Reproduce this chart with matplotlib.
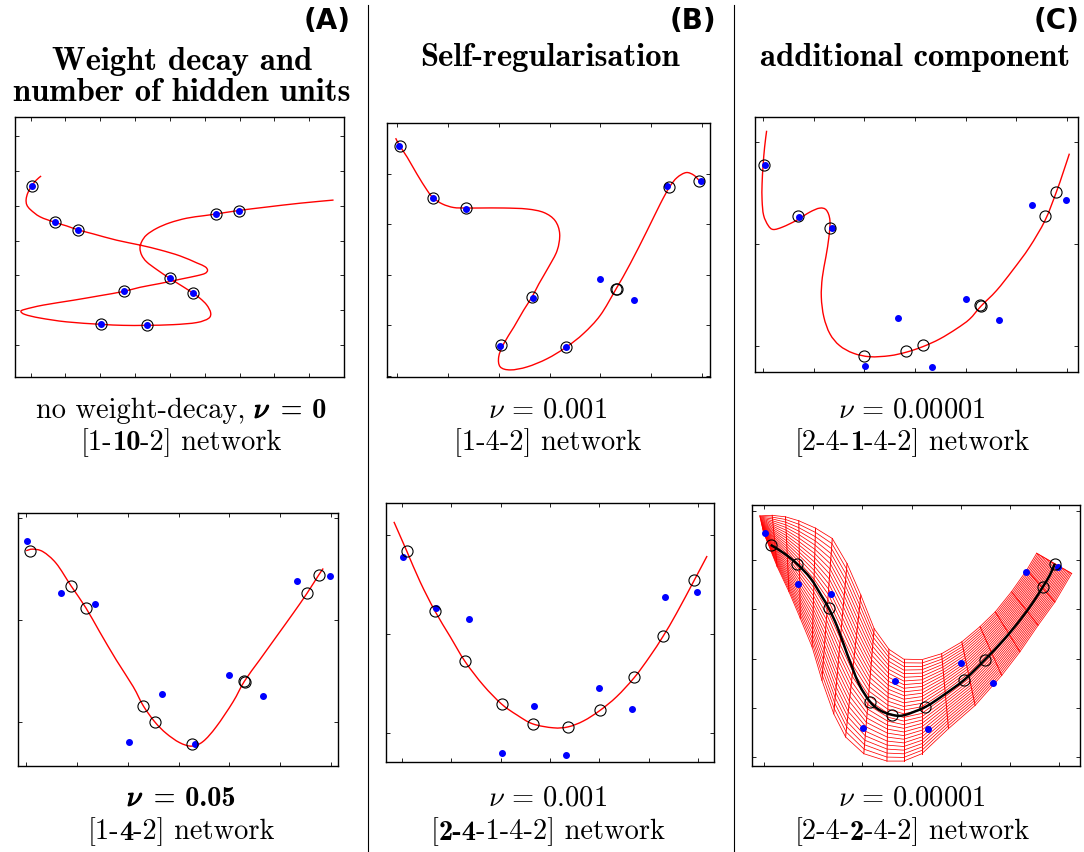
import numpy as np
import matplotlib
matplotlib.use("Agg")
import matplotlib.pyplot as plt
from matplotlib.path import Path
from matplotlib.patches import PathPatch
from matplotlib.lines import Line2D
from matplotlib.offsetbox import TextArea, HPacker, AnnotationBbox
import matplotlib.patheffects as pe

plt.rcParams['mathtext.fontset'] = 'cm'

# ---------------- data (shared by all six panels) ----------------
data_x = [0.03, 0.70, 1.36, 2.02, 2.67, 3.33, 4.00, 4.66, 5.32, 5.98]
data_y = [4.55, 3.52, 3.31, 0.60, 1.55, 0.57, 1.92, 1.50, 3.76, 3.86]

# ---- (A) top: [1-10-2], nu = 0 ----
a1_curve_x = [0.30, 0.15, 0.03, -0.08, -0.13, -0.11, 0.00, 0.27, 0.70, 1.03, 1.35, 1.80, 2.47,
              3.14, 3.72, 4.29, 4.77, 5.01, 5.08, 5.01, 4.77, 4.29, 3.72, 3.14, 2.66, 1.99,
              1.23, 0.36, -0.16, -0.28, -0.16, 0.27, 1.03, 2.01, 2.66, 3.31, 4.10, 4.77,
              5.11, 5.17, 5.06, 4.87, 4.65, 4.39, 3.99, 3.62, 3.33, 3.19, 3.14, 3.19, 3.33,
              3.62, 4.00, 4.48, 4.96, 5.32, 5.97, 6.78, 7.74, 8.70]
a1_curve_y = [4.85, 4.72, 4.56, 4.37, 4.18, 4.02, 3.88, 3.68, 3.52, 3.42, 3.31, 3.19, 3.01,
              2.87, 2.73, 2.56, 2.36, 2.25, 2.15, 2.06, 1.99, 1.89, 1.77, 1.66, 1.54, 1.42,
              1.29, 1.15, 1.03, 0.97, 0.88, 0.78, 0.67, 0.60, 0.57, 0.57, 0.59, 0.65,
              0.77, 0.93, 1.15, 1.34, 1.50, 1.67, 1.92, 2.17, 2.39, 2.58, 2.78, 2.97, 3.16,
              3.35, 3.51, 3.64, 3.71, 3.76, 3.86, 3.96, 4.07, 4.16]

# ---- (B) top: [1-4-2], nu = 0.001 ----
b1_proj_x = [0.05, 0.71, 1.35, 2.05, 2.66, 3.33, 4.31, 4.32, 5.36, 5.95]
b1_proj_y = [4.54, 3.52, 3.32, 0.61, 1.56, 0.57, 1.72, 1.71, 3.73, 3.86]
b1_curve_x = [-0.03, 0.05, 0.20, 0.39, 0.59, 0.71, 0.89, 1.11, 1.35, 1.64, 2.10, 2.56, 2.89,
              3.11, 3.20, 3.15, 2.98, 2.79, 2.66, 2.49, 2.30, 2.10, 2.00, 2.03, 2.23, 2.56,
              2.95, 3.33, 3.67, 4.00, 4.31, 4.59, 4.92, 5.18, 5.36, 5.51, 5.69, 5.84, 5.95, 6.00]
b1_curve_y = [4.70, 4.55, 4.32, 3.99, 3.67, 3.52, 3.40, 3.33, 3.32, 3.32, 3.32, 3.30, 3.23,
              3.07, 2.81, 2.48, 2.15, 1.82, 1.57, 1.30, 0.97, 0.64, 0.38, 0.18, 0.12, 0.18,
              0.34, 0.57, 0.84, 1.20, 1.72, 2.22, 2.87, 3.40, 3.73, 3.92, 4.02, 3.97, 3.86, 3.81]

# ---- (C) top: [2-4-1-4-2], nu = 0.00001 ----
c1_proj_x = [0.01, 0.68, 1.33, 2.00, 2.83, 3.16, 4.28, 4.30, 5.57, 5.79]
c1_proj_y = [4.54, 3.54, 3.31, 0.80, 0.90, 1.02, 1.79, 1.77, 3.54, 4.01]
c1_curve_x = [0.07, 0.03, 0.00, -0.02, -0.02, 0.01, 0.10, 0.20, 0.39, 0.66, 0.92, 1.12, 1.25,
              1.32, 1.30, 1.24, 1.17, 1.15, 1.20, 1.32, 1.51, 1.78, 2.11, 2.50, 2.83, 3.16,
              3.49, 3.82, 4.08, 4.30, 4.61, 4.93, 5.26, 5.57, 5.79, 5.92, 6.05]
c1_curve_y = [5.22, 4.90, 4.54, 4.18, 3.85, 3.56, 3.36, 3.28, 3.33, 3.46, 3.62, 3.70, 3.66,
              3.46, 3.13, 2.74, 2.34, 1.95, 1.56, 1.23, 1.00, 0.85, 0.78, 0.80, 0.87, 0.98,
              1.13, 1.33, 1.52, 1.77, 2.08, 2.48, 2.93, 3.46, 4.01, 4.38, 4.77]

# ---- (A) bottom: [1-4-2], nu = 0.05 ----
a2_proj_x = [0.08, 0.89, 1.18, 2.54, 2.31, 3.26, 4.29, 4.31, 5.52, 5.75]
a2_proj_y = [4.36, 3.67, 3.24, 0.99, 1.31, 0.56, 1.79, 1.78, 3.52, 3.88]
a2_curve_x = [0.01, 0.14, 0.34, 0.60, 0.89, 1.18, 1.45, 1.78, 2.11, 2.31, 2.54, 2.76, 3.02,
              3.26, 3.48, 3.74, 4.07, 4.29, 4.59, 4.92, 5.25, 5.52, 5.75, 5.84]
a2_curve_y = [4.36, 4.39, 4.34, 4.11, 3.67, 3.24, 2.77, 2.21, 1.69, 1.31, 0.99, 0.77, 0.59,
              0.52, 0.61, 0.90, 1.39, 1.79, 2.21, 2.67, 3.13, 3.52, 3.88, 4.01]

# ---- (B) bottom: [2-4-1-4-2], nu = 0.001 ----
b2_proj_x = [0.10, 0.67, 1.28, 2.02, 2.65, 3.37, 4.01, 4.71, 5.29, 5.92]
b2_proj_y = [4.68, 3.47, 2.45, 1.59, 1.19, 1.13, 1.46, 2.13, 2.96, 4.09]
b2_curve_x = [-0.16, 0.10, 0.37, 0.67, 0.98, 1.28, 1.65, 2.02, 2.33, 2.65, 3.07, 3.37, 3.68,
              4.01, 4.35, 4.71, 5.02, 5.29, 5.56, 5.92, 6.18]
b2_curve_y = [5.27, 4.68, 4.06, 3.47, 2.95, 2.45, 1.97, 1.59, 1.37, 1.19, 1.11, 1.13, 1.25,
              1.46, 1.74, 2.13, 2.55, 2.96, 3.42, 4.09, 4.58]

# ---- (C) bottom: [2-4-2-4-2], nu = 0.00001 ----
c2_proj_x = [0.14, 0.68, 1.32, 2.16, 2.60, 3.28, 4.07, 4.49, 5.66, 5.91]
c2_proj_y = [4.31, 3.92, 3.02, 1.12, 0.86, 1.02, 1.57, 1.98, 3.45, 3.93]
c2_curve_x = [0.14, 0.41, 0.68, 0.95, 1.18, 1.32, 1.49, 1.69, 1.93, 2.16, 2.36, 2.60, 2.84,
              3.28, 3.65, 4.07, 4.49, 4.86, 5.20, 5.47, 5.66, 5.81, 5.91]
c2_curve_y = [4.31, 4.14, 3.92, 3.63, 3.26, 3.02, 2.65, 2.10, 1.49, 1.12, 0.95, 0.86, 0.85,
              1.02, 1.26, 1.57, 1.98, 2.37, 2.78, 3.15, 3.45, 3.70, 3.93]
# grid of the 2-D component: one edge and the other edge of each grid column
mesh_top_x = [-0.08, 0.17, 0.44, 0.71, 1.05, 1.39, 1.69, 1.97, 2.24, 2.54, 2.84, 3.21, 3.61,
              4.02, 4.39, 4.70, 5.03, 5.34, 5.54]
mesh_top_y = [4.90, 4.91, 4.88, 4.80, 4.65, 4.44, 3.93, 3.29, 2.61, 2.19, 1.99, 1.98, 2.10,
              2.34, 2.65, 2.95, 3.36, 3.80, 4.14]
mesh_bot_x = [0.00, 0.27, 0.51, 0.74, 0.98, 1.18, 1.42, 1.66, 2.03, 2.50, 2.84, 3.21, 3.75,
              4.29, 4.83, 5.20, 5.57, 5.91, 6.25]
mesh_bot_y = [4.55, 3.87, 3.36, 2.82, 2.24, 1.56, 0.88, 0.41, 0.07, -0.08, -0.08, 0.07, 0.58,
              1.05, 1.66, 2.14, 2.68, 3.15, 3.73]
mesh_rows = 28

# ---------------- helpers ----------------
def smooth_path(xs, ys):
    P = np.column_stack([xs, ys]).astype(float)
    n = len(P)
    verts = [P[0]]
    codes = [Path.MOVETO]
    for i in range(n - 1):
        p0 = P[i - 1] if i > 0 else P[i]
        p1, p2 = P[i], P[i + 1]
        p3 = P[i + 2] if i + 2 < n else P[i + 1]
        verts += [p1 + (p2 - p0) / 6.0, p2 - (p3 - p1) / 6.0, p2]
        codes += [Path.CURVE4] * 3
    return Path(verts, codes)


def draw_curve(ax, xs, ys, color='red', lw=1.0, z=2):
    ax.add_patch(PathPatch(smooth_path(xs, ys), fill=False, edgecolor=color, lw=lw, zorder=z))


def style(ax, xlim, ylim, xticks, yticks):
    ax.set_xlim(xlim)
    ax.set_ylim(ylim)
    ax.set_xticks(xticks)
    ax.set_yticks(yticks)
    ax.tick_params(direction='in', top=True, right=True, length=3, width=0.6,
                   labelbottom=False, labelleft=False)
    for s in ax.spines.values():
        s.set_linewidth(1.0)


def dots(ax, px=None, py=None):
    ax.plot(data_x, data_y, 'o', color='blue', ms=4, mec='blue', zorder=4)
    if px is not None:
        ax.plot(px, py, 'o', mfc='none', mec='black', ms=8, mew=0.8, zorder=5)


W, H = 1084, 852
fig = plt.figure(figsize=(W / 100, H / 100), dpi=100)


def add_ax(x0, y0, x1, y1):
    return fig.add_axes([x0 / W, 1 - y1 / H, (x1 - x0) / W, (y1 - y0) / H])


# (A) top
ax = add_ax(15, 117, 344, 377)
style(ax, (-0.45, 9.00), (-0.91, 6.54), range(0, 9), range(0, 7))
draw_curve(ax, a1_curve_x, a1_curve_y)
dots(ax, data_x, data_y)

# (B) top
ax = add_ax(387, 123, 710, 377)
style(ax, (-0.20, 6.16), (-0.02, 4.99), range(0, 7), range(0, 6))
draw_curve(ax, b1_curve_x, b1_curve_y)
dots(ax, b1_proj_x, b1_proj_y)

# (C) top
ax = add_ax(755, 117, 1078, 372)
style(ax, (-0.16, 6.22), (0.48, 5.49), range(0, 7), [1, 3, 5])
draw_curve(ax, c1_curve_x, c1_curve_y)
dots(ax, c1_proj_x, c1_proj_y)

# (A) bottom
ax = add_ax(18, 513, 338, 766)
style(ax, (-0.15, 6.13), (0.13, 5.10), range(0, 7), [1, 3, 5])
draw_curve(ax, a2_curve_x, a2_curve_y)
dots(ax, a2_proj_x, a2_proj_y)

# (B) bottom
ax = add_ax(386, 503, 714, 762)
style(ax, (-0.32, 6.32), (0.42, 5.65), range(0, 7), [1, 3, 5])
draw_curve(ax, b2_curve_x, b2_curve_y)
dots(ax, b2_proj_x, b2_proj_y)

# (C) bottom
ax = add_ax(752, 505, 1080, 766)
style(ax, (-0.24, 6.42), (-0.18, 5.12), range(0, 7), range(0, 6))
T = np.column_stack([mesh_top_x, mesh_top_y])
B = np.column_stack([mesh_bot_x, mesh_bot_y])
frac = np.linspace(0, 1, mesh_rows + 1)[:, None, None]
grid = T[None] + frac * (B - T)[None]
for j in range(grid.shape[0]):
    ax.plot(grid[j, :, 0], grid[j, :, 1], color='red', lw=0.55, zorder=2)
for i in range(T.shape[0]):
    ax.plot([T[i, 0], B[i, 0]], [T[i, 1], B[i, 1]], color='red', lw=0.7, zorder=2)
ax.plot(data_x, data_y, 'o', color='blue', ms=4, mec='blue', zorder=4)
draw_curve(ax, c2_curve_x, c2_curve_y, color='black', lw=1.8, z=5)
ax.plot(c2_proj_x, c2_proj_y, 'o', mfc='none', mec='black', ms=8, mew=0.8, zorder=6)

# ---------------- separators ----------------
for xs in (368, 734):
    fig.add_artist(Line2D([xs / W, xs / W], [0, 1 - 5 / H], color='black', lw=0.8))

# ---------------- texts ----------------
for lab, xr in (("(A)", 351), ("(B)", 716), ("(C)", 1080)):
    fig.text(xr / W, 1 - 21 / H, lab, ha='right', va='center', fontsize=20,
             fontweight='bold', family=['Liberation Sans Narrow', 'DejaVu Sans'])

TS = 23.5
fig.text(182 / W, 1 - 77 / H, "Weight decay and\nnumber of hidden units", ha='center',
         va='center', family='cmb10', fontsize=TS, linespacing=1.13)
fig.text(550 / W, 1 - 58 / H, "Self-regularisation", ha='center', va='center',
         family='cmb10', fontsize=TS)
fig.text(915 / W, 1 - 58 / H, "additional component", ha='center', va='center',
         family='cmb10', fontsize=TS)

FS = 20.5
bold_fx = [pe.withStroke(linewidth=0.9, foreground='black')]


def rich(xc, yc, parts):
    kids = []
    for s, kind in parts:
        if kind == 'rm':
            tp = dict(family='cmr10', fontsize=FS)
        elif kind == 'bf':
            tp = dict(family='cmb10', fontsize=FS)
        elif kind == 'math':
            tp = dict(fontsize=FS)
        else:  # bold math symbol
            tp = dict(fontsize=FS, path_effects=bold_fx)
        kids.append(TextArea(s, textprops=tp))
    pack = HPacker(children=kids, align='baseline', pad=0, sep=0)
    ab = AnnotationBbox(pack, (xc / W, 1 - yc / H), xycoords='figure fraction',
                        frameon=False, box_alignment=(0.5, 0.5), pad=0)
    fig.add_artist(ab)


rich(181, 410, [("no weight-decay,", 'rm'), (r"$\ \nu$", 'mathbf'), (" = 0", 'bf')])
rich(181, 443, [("[1-", 'rm'), ("10", 'bf'), ("-2] network", 'rm')])
rich(548, 410, [(r"$\nu\,=\,0.001$", 'math')])
rich(548, 443, [("[1-4-2] network", 'rm')])
rich(912, 410, [(r"$\nu\,=\,0.00001$", 'math')])
rich(912, 443, [("[2-4-", 'rm'), ("1", 'bf'), ("-4-2] network", 'rm')])

rich(181, 798, [(r"$\nu$", 'mathbf'), (" = 0.05", 'bf')])
rich(181, 832, [("[1-", 'rm'), ("4", 'bf'), ("-2] network", 'rm')])
rich(548, 798, [(r"$\nu\,=\,0.001$", 'math')])
rich(548, 832, [("[", 'rm'), ("2-4", 'bf'), ("-1-4-2] network", 'rm')])
rich(912, 798, [(r"$\nu\,=\,0.00001$", 'math')])
rich(912, 832, [("[2-4-", 'rm'), ("2", 'bf'), ("-4-2] network", 'rm')])

fig.savefig("out.png", dpi=100)
